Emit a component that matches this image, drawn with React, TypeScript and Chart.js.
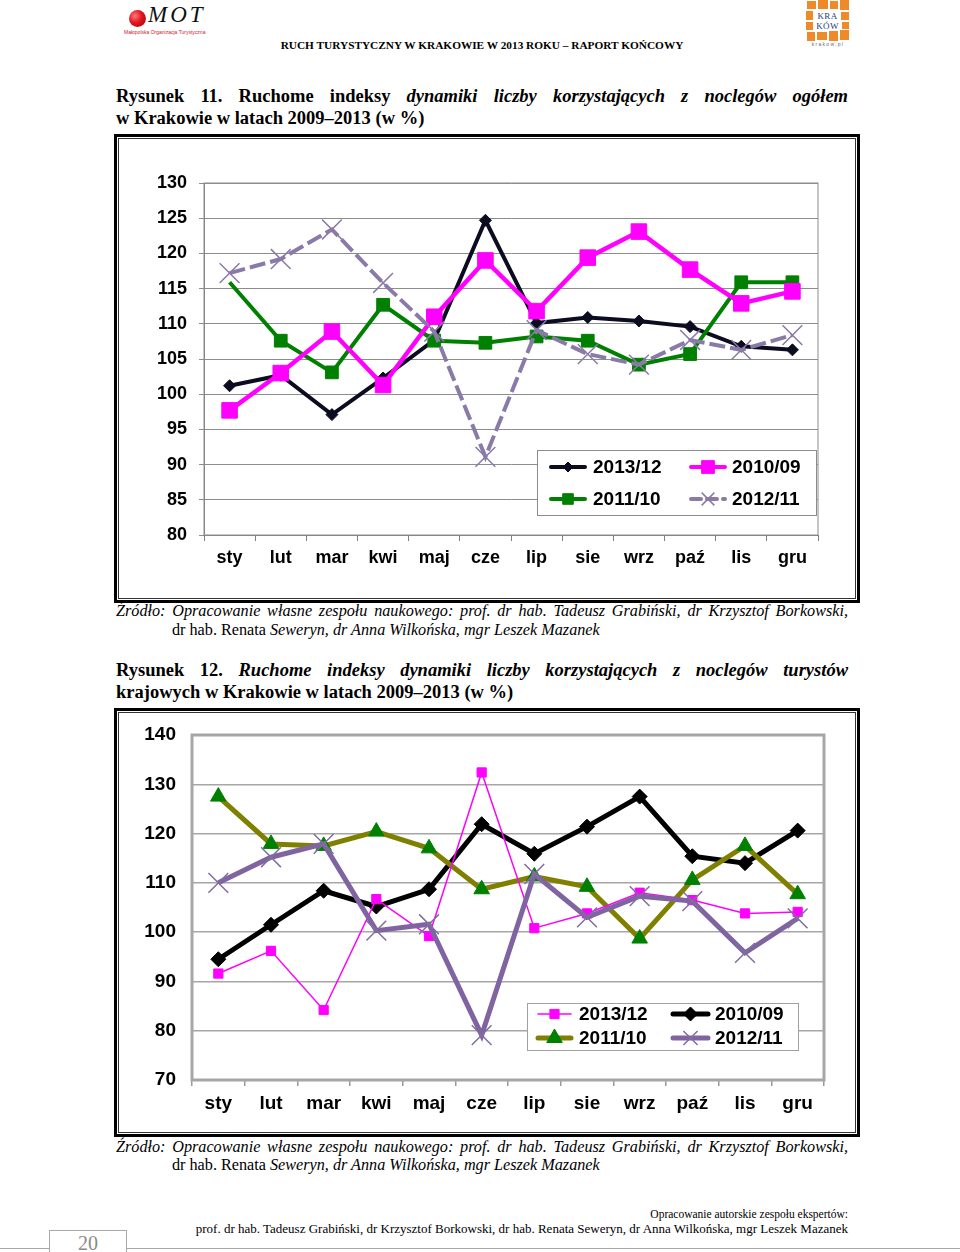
import React, { useEffect, useRef } from 'react';
import { Chart, registerables } from 'chart.js';

Chart.register(...registerables);

// ---------------- DATA ----------------
const months = ['sty', 'lut', 'mar', 'kwi', 'maj', 'cze', 'lip', 'sie', 'wrz', 'paź', 'lis', 'gru'];

// Rysunek 11 – ogółem
const fig11YTicks = [80, 85, 90, 95, 100, 105, 110, 115, 120, 125, 130];
const fig11_2013_12 = [101.2, 102.7, 97.1, 102.3, 107.7, 124.7, 110.1, 110.9, 110.4, 109.6, 106.8, 106.3];
const fig11_2010_09 = [97.7, 103.0, 108.9, 101.3, 111.0, 119.0, 111.8, 119.4, 123.1, 117.7, 112.9, 114.6];
const fig11_2011_10 = [115.9, 107.6, 103.1, 112.7, 107.6, 107.3, 108.2, 107.6, 104.2, 105.7, 115.9, 115.9];
const fig11_2012_11 = [117.2, 119.2, 123.4, 115.8, 108.9, 91.1, 109.1, 105.7, 104.2, 107.7, 106.3, 108.4];

// Rysunek 12 – turyści krajowi
const fig12YTicks = [70, 80, 90, 100, 110, 120, 130, 140];
const fig12_2013_12 = [91.6, 96.2, 84.2, 106.7, 99.2, 132.4, 100.8, 103.8, 108.0, 106.5, 103.8, 104.1];
const fig12_2010_09 = [94.5, 101.5, 108.4, 105.2, 108.7, 121.9, 115.9, 121.4, 127.5, 115.4, 114.0, 120.6];
const fig12_2011_10 = [127.5, 117.9, 117.5, 120.4, 117.0, 108.7, 111.3, 109.2, 98.7, 110.6, 117.5, 107.7];
const fig12_2012_11 = [110.0, 115.2, 117.9, 100.3, 101.6, 79.1, 111.8, 103.0, 107.3, 106.3, 95.8, 102.8];

// ---------------- HELPERS ----------------
const SANS = '"Liberation Sans", Arial, sans-serif';
const SERIF = '"Liberation Serif", "Times New Roman", serif';

type MarkerKind = 'diamond' | 'square' | 'triangle' | 'cross';

function drawMarker(ctx: CanvasRenderingContext2D, kind: MarkerKind, x: number, y: number, r: number, fill: string, stroke: string, lw: number) {
  ctx.save();
  ctx.setLineDash([]);
  ctx.fillStyle = fill;
  ctx.strokeStyle = stroke;
  ctx.lineWidth = lw;
  ctx.beginPath();
  if (kind === 'diamond') {
    ctx.moveTo(x, y - r); ctx.lineTo(x + r, y); ctx.lineTo(x, y + r); ctx.lineTo(x - r, y); ctx.closePath();
    ctx.fill(); ctx.stroke();
  } else if (kind === 'square') {
    const s = r * Math.SQRT1_2;
    ctx.rect(x - s, y - s, 2 * s, 2 * s);
    ctx.fill(); ctx.stroke();
  } else if (kind === 'triangle') {
    const a = (2 * Math.PI) / 3;
    ctx.moveTo(x, y - r);
    ctx.lineTo(x + Math.sin(a) * r, y - Math.cos(a) * r);
    ctx.lineTo(x + Math.sin(2 * a) * r, y - Math.cos(2 * a) * r);
    ctx.closePath();
    ctx.fill(); ctx.stroke();
  } else {
    const s = r * Math.SQRT1_2;
    ctx.moveTo(x - s, y - s); ctx.lineTo(x + s, y + s);
    ctx.moveTo(x + s, y - s); ctx.lineTo(x - s, y + s);
    ctx.stroke();
  }
  ctx.restore();
}

type LegendEntry = {
  ds: number; marker: MarkerKind; r: number; lineWidth: number;
  x1: number; x2: number; tx: number; y: number;
};

const boxLegendPlugin = {
  id: 'boxLegend',
  afterDraw(chart: any, _args: any, opts: any) {
    if (!opts || !opts.box) return;
    const ctx: CanvasRenderingContext2D = chart.ctx;
    const b = opts.box;
    ctx.save();
    ctx.fillStyle = '#ffffff';
    ctx.fillRect(b.x, b.y, b.w, b.h);
    ctx.strokeStyle = opts.boxColor || '#8c8c8c';
    ctx.lineWidth = 1;
    ctx.strokeRect(b.x + 0.5, b.y + 0.5, b.w, b.h);
    (opts.entries as LegendEntry[]).forEach((e) => {
      const d = chart.data.datasets[e.ds];
      ctx.save();
      ctx.strokeStyle = d.borderColor;
      ctx.lineWidth = e.lineWidth;
      ctx.lineCap = 'round';
      ctx.setLineDash(d.borderDash && d.borderDash.length ? [10, 6] : []);
      ctx.beginPath();
      ctx.moveTo(e.x1, e.y);
      ctx.lineTo(e.x2, e.y);
      ctx.stroke();
      ctx.restore();
      drawMarker(ctx, e.marker, (e.x1 + e.x2) / 2, e.y, e.r,
        d.pointBackgroundColor || d.borderColor, d.pointBorderColor || d.borderColor,
        e.marker === 'cross' ? 1.5 : 1);
      ctx.fillStyle = '#000';
      ctx.font = opts.font;
      ctx.textBaseline = 'middle';
      ctx.textAlign = 'left';
      ctx.fillText(d.label, e.tx, e.y + 1);
    });
    ctx.restore();
  },
};

const plotBorderPlugin = {
  id: 'plotBorder',
  beforeDatasetsDraw(chart: any, _args: any, opts: any) {
    if (!opts || !opts.width) return;
    const { left, top, right, bottom } = chart.chartArea;
    const ctx: CanvasRenderingContext2D = chart.ctx;
    ctx.save();
    ctx.strokeStyle = opts.color;
    ctx.lineWidth = opts.width;
    ctx.strokeRect(left, top, right - left, bottom - top);
    ctx.restore();
  },
};

function ChartCanvas({ left, top, width, height, makeConfig }: { left: number; top: number; width: number; height: number; makeConfig: () => any }) {
  const ref = useRef<HTMLCanvasElement>(null);
  useEffect(() => {
    const chart = new Chart(ref.current as HTMLCanvasElement, makeConfig());
    return () => chart.destroy();
  }, []);
  return (
    <canvas
      ref={ref}
      width={width}
      height={height}
      style={{ position: 'absolute', left, top, width, height }}
    />
  );
}

const noPadY = (w: number) => (s: any) => { s.width = w; s.paddingTop = 0; s.paddingBottom = 0; };
const noPadX = (h: number) => (s: any) => { s.height = h; s.paddingLeft = 0; s.paddingRight = 0; };

// ---------------- CHART 1 ----------------
// canvas placed at page (120,140); plot area page x 204..818, y 183..535
const C1 = { left: 120, top: 140, width: 730, height: 450 };

function fig11Config() {
  const ox = C1.left, oy = C1.top;
  const tickFont = { family: SANS, size: 18, weight: 'bold' as const };
  return {
    type: 'line',
    data: {
      labels: months,
      datasets: [
        {
          label: '2013/12', data: fig11_2013_12, borderColor: '#0c0c20', backgroundColor: '#0c0c20',
          borderWidth: 4, pointStyle: 'rectRot', pointRadius: 6, pointBackgroundColor: '#0c0c20',
          pointBorderColor: '#0c0c20', pointBorderWidth: 1, order: 4, tension: 0,
        },
        {
          label: '2010/09', data: fig11_2010_09, borderColor: '#ff00ff', backgroundColor: '#ff00ff',
          borderWidth: 4.5, pointStyle: 'rect', pointRadius: 11, pointBackgroundColor: '#ff00ff',
          pointBorderColor: '#ff00ff', pointBorderWidth: 1, order: 2, tension: 0,
        },
        {
          label: '2011/10', data: fig11_2011_10, borderColor: '#008000', backgroundColor: '#008000',
          borderWidth: 4, pointStyle: 'rect', pointRadius: fig11_2011_10.map((_, i) => (i === 0 ? 0 : 9)),
          pointBackgroundColor: '#008000', pointBorderColor: '#008000', pointBorderWidth: 1, order: 3, tension: 0,
        },
        {
          label: '2012/11', data: fig11_2012_11, borderColor: '#8a7aa8', backgroundColor: '#8a7aa8',
          borderWidth: 4, borderDash: [16, 5], pointStyle: 'crossRot', pointRadius: 14,
          pointBackgroundColor: '#8a7aa8', pointBorderColor: '#8a7aa8', pointBorderWidth: 1.5, order: 1, tension: 0,
        },
      ],
    },
    options: {
      animation: false,
      responsive: false,
      events: [],
      layout: { padding: { left: 0, right: 32, top: 43, bottom: 15 } },
      plugins: {
        legend: { display: false },
        tooltip: { enabled: false },
        plotBorder: { color: '#8c8c8c', width: 1 },
        boxLegend: {
          font: `bold 19px ${SANS}`,
          box: { x: 537 - ox, y: 450 - oy, w: 279, h: 65 },
          entries: [
            { ds: 0, marker: 'diamond', r: 5, lineWidth: 4, x1: 551 - ox, x2: 585 - ox, tx: 593 - ox, y: 467 - oy },
            { ds: 1, marker: 'square', r: 9, lineWidth: 4, x1: 691 - ox, x2: 725 - ox, tx: 732 - ox, y: 467 - oy },
            { ds: 2, marker: 'square', r: 7.5, lineWidth: 4, x1: 551 - ox, x2: 585 - ox, tx: 593 - ox, y: 499 - oy },
            { ds: 3, marker: 'cross', r: 9, lineWidth: 4, x1: 691 - ox, x2: 725 - ox, tx: 732 - ox, y: 499 - oy },
          ],
        },
      },
      scales: {
        x: {
          offset: true,
          grid: { offset: true, drawOnChartArea: false, drawTicks: true, tickLength: 6, color: '#808080', lineWidth: 1 },
          border: { display: true, color: '#808080', width: 1 },
          ticks: { padding: 6, color: '#000', font: tickFont, maxRotation: 0, autoSkip: false },
          afterFit: noPadX(40),
        },
        y: {
          min: fig11YTicks[0],
          max: fig11YTicks[fig11YTicks.length - 1],
          afterBuildTicks: (s: any) => { s.ticks = fig11YTicks.map((v) => ({ value: v })); },
          grid: { color: '#8c8c8c', lineWidth: 1, drawTicks: true, tickLength: 5 },
          border: { display: true, color: '#808080', width: 1 },
          ticks: { padding: 12, color: '#000', font: tickFont },
          afterFit: noPadY(84),
        },
      },
    },
    plugins: [plotBorderPlugin, boxLegendPlugin],
  };
}

// ---------------- CHART 2 ----------------
// canvas placed at page (120,715); plot area page x 192..824, y 735..1080
const C2 = { left: 120, top: 715, width: 730, height: 415 };

function fig12Config() {
  const ox = C2.left, oy = C2.top;
  const tickFont = { family: SANS, size: 19, weight: 'bold' as const };
  return {
    type: 'line',
    data: {
      labels: months,
      datasets: [
        {
          label: '2013/12', data: fig12_2013_12, borderColor: '#ff00ff', backgroundColor: '#ff00ff',
          borderWidth: 1.5, pointStyle: 'rect', pointRadius: 6.5, pointBackgroundColor: '#ff00ff',
          pointBorderColor: '#ff00ff', pointBorderWidth: 1, order: 2, tension: 0,
        },
        {
          label: '2010/09', data: fig12_2010_09, borderColor: '#000000', backgroundColor: '#000000',
          borderWidth: 5, pointStyle: 'rectRot', pointRadius: 7.5, pointBackgroundColor: '#000000',
          pointBorderColor: '#000000', pointBorderWidth: 1, order: 4, tension: 0,
        },
        {
          label: '2011/10', data: fig12_2011_10, borderColor: '#808000', backgroundColor: '#008000',
          borderWidth: 5, pointStyle: 'triangle', pointRadius: 9, pointBackgroundColor: '#008000',
          pointBorderColor: '#008000', pointBorderWidth: 1, order: 3, tension: 0,
        },
        {
          label: '2012/11', data: fig12_2012_11, borderColor: '#8064a2', backgroundColor: '#8064a2',
          borderWidth: 5, pointStyle: 'crossRot', pointRadius: 14, pointBackgroundColor: '#8a7aa8',
          pointBorderColor: '#7f6f9c', pointBorderWidth: 1.5, order: 1, tension: 0,
        },
      ],
    },
    options: {
      animation: false,
      responsive: false,
      events: [],
      layout: { padding: { left: 0, right: 26, top: 20, bottom: 10 } },
      plugins: {
        legend: { display: false },
        tooltip: { enabled: false },
        plotBorder: { color: '#a6a6a6', width: 3 },
        boxLegend: {
          font: `bold 19px ${SANS}`,
          boxColor: '#a0a0a0',
          box: { x: 527 - ox, y: 1003 - oy, w: 271, h: 47 },
          entries: [
            { ds: 0, marker: 'square', r: 6.5, lineWidth: 1.5, x1: 538 - ox, x2: 571 - ox, tx: 579 - ox, y: 1014 - oy },
            { ds: 1, marker: 'diamond', r: 7, lineWidth: 5, x1: 673 - ox, x2: 708 - ox, tx: 715 - ox, y: 1014 - oy },
            { ds: 2, marker: 'triangle', r: 9, lineWidth: 5, x1: 538 - ox, x2: 571 - ox, tx: 579 - ox, y: 1038 - oy },
            { ds: 3, marker: 'cross', r: 10, lineWidth: 5, x1: 673 - ox, x2: 708 - ox, tx: 715 - ox, y: 1038 - oy },
          ],
        },
      },
      scales: {
        x: {
          offset: true,
          grid: { offset: true, drawOnChartArea: false, drawTicks: true, tickLength: 6, color: '#9a9a9a', lineWidth: 1.5 },
          border: { display: false },
          ticks: { padding: 6, color: '#000', font: tickFont, maxRotation: 0, autoSkip: false },
          afterFit: noPadX(40),
        },
        y: {
          min: fig12YTicks[0],
          max: fig12YTicks[fig12YTicks.length - 1],
          afterBuildTicks: (s: any) => { s.ticks = fig12YTicks.map((v) => ({ value: v })); },
          grid: { color: '#a6a6a6', lineWidth: 1.5, drawTicks: false },
          border: { display: false },
          ticks: { padding: 16, color: '#000', font: tickFont },
          afterFit: noPadY(72),
        },
      },
    },
    plugins: [plotBorderPlugin, boxLegendPlugin],
  };
}

// ---------------- PAGE ----------------
function Frame({ left, top, right, bottom }: { left: number; top: number; right: number; bottom: number }) {
  return (
    <div style={{ position: 'absolute', left, top, width: right - left, height: bottom - top, boxSizing: 'border-box', border: '3px solid #000' }}>
      <div style={{ position: 'absolute', left: 1, top: 1, right: 1, bottom: 1, border: '1.5px solid #333' }} />
    </div>
  );
}

const abs = (left: number, top: number, extra: React.CSSProperties = {}): React.CSSProperties => ({
  position: 'absolute', left, top, margin: 0, whiteSpace: 'nowrap', ...extra,
});

function KrakowLogo() {
  const o = '#ef8a2a';
  const blocks: [number, number, number, number][] = [
    [807, 1, 9, 8], [818, 0, 10, 9], [830, 1, 8, 8], [840, 0, 9, 10],
    [806, 11, 7, 9], [806, 22, 7, 8], [807, 32, 8, 9], [817, 32, 10, 8],
    [829, 31, 9, 10], [840, 30, 9, 10], [841, 12, 8, 8], [842, 22, 7, 7],
  ];
  return (
    <>
      {blocks.map((b, i) => (
        <div key={i} style={{ position: 'absolute', left: b[0], top: b[1], width: b[2], height: b[3], background: o }} />
      ))}
      <div style={abs(814, 12, { width: 27, textAlign: 'center', font: `9px ${SERIF}`, lineHeight: '9.5px', color: '#27407a', letterSpacing: 0.3 })}>
        KRA<br />KÓW
      </div>
      <div style={abs(806, 41, { width: 44, textAlign: 'center', font: `5px ${SANS}`, color: '#6a6a80', letterSpacing: 1.3 })}>krakow.pl</div>
    </>
  );
}

function MotLogo() {
  return (
    <>
      <div style={{ position: 'absolute', left: 129, top: 10, width: 17, height: 17, borderRadius: '50%', background: 'radial-gradient(circle at 35% 35%, #ff7a7a 0%, #e0141e 45%, #a5000e 100%)' }} />
      <div style={abs(148, 2, { font: `italic 23px ${SERIF}`, color: '#111', letterSpacing: 3 })}>MOT</div>
      <div style={abs(124, 29, { font: `5px ${SANS}`, color: '#d0202a' })}>Małopolska Organizacja Turystyczna</div>
    </>
  );
}

export default function App() {
  const titleFont = `bold 18.5px ${SERIF}`;
  const srcFont = `16.2px ${SERIF}`;
  const justifyLine = (left: number, top: number, width: number, font: string, lh: number): React.CSSProperties => ({
    position: 'absolute', left, top, width, font, lineHeight: `${lh}px`, textAlign: 'justify',
    textAlignLast: 'justify' as any, color: '#000', margin: 0,
  });
  return (
    <div style={{ position: 'absolute', left: 0, top: 0, width: 960, height: 1252, overflow: 'hidden', background: '#fff', color: '#000' }}>
      <MotLogo />
      <KrakowLogo />
      <div style={abs(0, 38, { width: 964, textAlign: 'center', font: `bold 11.3px ${SERIF}`, lineHeight: '14px' })}>
        RUCH TURYSTYCZNY W KRAKOWIE W 2013 ROKU – RAPORT KOŃCOWY
      </div>

      {/* Rysunek 11 */}
      <div style={justifyLine(116, 85, 732, titleFont, 22)}>
        Rysunek 11. Ruchome indeksy <i>dynamiki liczby korzystających z noclegów ogółem</i>
      </div>
      <div style={abs(116, 107, { font: titleFont, lineHeight: '22px' })}>w Krakowie w latach 2009–2013 (w %)</div>

      <Frame left={114} top={134} right={860} bottom={603} />
      <ChartCanvas left={C1.left} top={C1.top} width={C1.width} height={C1.height} makeConfig={fig11Config} />

      <div style={justifyLine(116, 601.5, 732, `italic ${srcFont}`, 19)}>
        Źródło: Opracowanie własne zespołu naukowego: prof. dr hab. Tadeusz Grabiński, dr Krzysztof Borkowski,
      </div>
      <div style={abs(172, 620.5, { font: srcFont, lineHeight: '19px' })}>
        dr hab. Renata <i>Seweryn, dr Anna Wilkońska, mgr Leszek Mazanek</i>
      </div>

      {/* Rysunek 12 */}
      <div style={justifyLine(116, 659, 732, titleFont, 22)}>
        Rysunek 12. <i>Ruchome indeksy dynamiki liczby korzystających z noclegów turystów</i>
      </div>
      <div style={abs(116, 681, { font: titleFont, lineHeight: '22px' })}>krajowych w Krakowie w latach 2009–2013 (w %)</div>

      <Frame left={114} top={708} right={860} bottom={1137} />
      <ChartCanvas left={C2.left} top={C2.top} width={C2.width} height={C2.height} makeConfig={fig12Config} />

      <div style={justifyLine(116, 1137.5, 732, `italic ${srcFont}`, 19)}>
        Źródło: Opracowanie własne zespołu naukowego: prof. dr hab. Tadeusz Grabiński, dr Krzysztof Borkowski,
      </div>
      <div style={abs(172, 1155.5, { font: srcFont, lineHeight: '19px' })}>
        dr hab. Renata <i>Seweryn, dr Anna Wilkońska, mgr Leszek Mazanek</i>
      </div>

      {/* Footer */}
      <div style={abs(0, 1207, { width: 848, textAlign: 'right', font: `11.5px ${SERIF}`, lineHeight: '15px' })}>
        Opracowanie autorskie zespołu ekspertów:
      </div>
      <div style={abs(0, 1221, { width: 848, textAlign: 'right', font: `13px ${SERIF}`, lineHeight: '16px' })}>
        prof. dr hab. Tadeusz Grabiński, dr Krzysztof Borkowski, dr hab. Renata Seweryn, dr Anna Wilkońska, mgr Leszek Mazanek
      </div>
      <div style={{ position: 'absolute', left: 0, top: 1248, width: 49, height: 0, borderTop: '1.5px solid #a8a8a8' }} />
      <div style={{ position: 'absolute', left: 127, top: 1248, width: 833, height: 0, borderTop: '1.5px solid #a8a8a8' }} />
      <div style={{ position: 'absolute', left: 49, top: 1230, width: 78, height: 30, boxSizing: 'border-box', borderTop: '1.5px solid #a8a8a8', borderLeft: '1.5px solid #a8a8a8', borderRight: '1.5px solid #a8a8a8' }} />
      <div style={abs(49, 1231, { width: 78, textAlign: 'center', font: `20px ${SERIF}`, lineHeight: '24px', color: '#8a8a8a' })}>20</div>
    </div>
  );
}
